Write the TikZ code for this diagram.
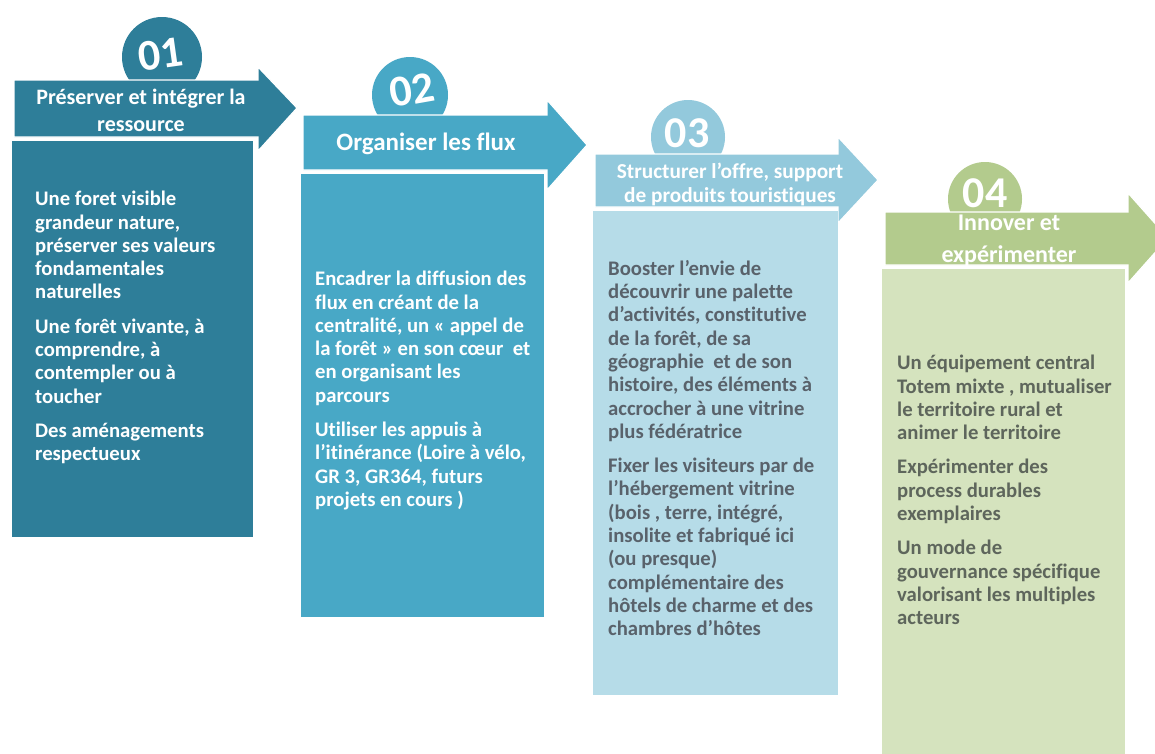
\documentclass[tikz,border=0pt]{standalone}
\usepackage{fontspec}
\setmainfont{Carlito}[Ligatures={NoCommon}]
\definecolor{cA}{HTML}{2E7E99}
\definecolor{cB}{HTML}{48A8C6}
\definecolor{cC}{HTML}{93C9DC}
\definecolor{cCbox}{HTML}{B6DCE8}
\definecolor{cD}{HTML}{B3CB8D}
\definecolor{cDbox}{HTML}{D5E3BE}
\definecolor{tC}{HTML}{59626B}
\definecolor{tD}{HTML}{5E665C}
\tikzset{
  band/.style={draw=white, line width=1.2pt},
  numtext/.style={inner sep=0pt, text=white, font=\fontsize{44}{44}\selectfont\bfseries},
  headtext/.style 2 args={inner sep=0pt, align=center, text=white, font=\fontsize{#1}{#2}\selectfont\bfseries},
  bodytext/.style={anchor=north west, inner sep=0pt, align=left, font=\fontsize{20.7}{23.3}\selectfont\bfseries},
}
\begin{document}
\begin{tikzpicture}[x=1pt,y=-1pt]
\useasboundingbox (0,0) rectangle (1155,753);
\clip (0,0) rectangle (1155,753);
\fill[white] (0,0) rectangle (1155,753);
% ---------- column 1
\fill[cA] (162,57) circle[radius=40];
\node[numtext, rotate=8] (n1) at (161,54) {01};
\path[band, fill=cA] (14,80) -- (258,80) -- (258,67) -- (297,108) -- (258,151) -- (258,137) -- (14,137) -- cycle;
\node[headtext={22}{27}] (h1) at (141,110) {Préserver et intégrer la\\ressource};
\fill[cA] (12,141) rectangle (253,537);
\node[bodytext, text=white] (t1) at (35,191) {Une foret visible\\
grandeur nature,\\
préserver ses valeurs\\
fondamentales\\
naturelles\\[11pt]
Une forêt vivante, à\\
comprendre, à\\
contempler ou à\\
toucher\\[11pt]
Des aménagements\\
respectueux};
% ---------- column 2
\fill[cB] (410,95) circle[radius=38];
\node[numtext, rotate=10] (n2) at (412,90) {02};
\path[band, fill=cB] (303,115) -- (547,115) -- (547,100) -- (587,145) -- (547,190) -- (547,170) -- (303,170) -- cycle;
\node[headtext={25}{30}, anchor=base] (h2) at (426,150) {Organiser les flux};
\fill[cB] (301,174) rectangle (544,617);
\node[bodytext, text=white] (t2) at (315,271) {Encadrer la diffusion des\\
flux en créant de la\\
centralité, un « appel de\\
la forêt » en son cœur ~et\\
en organisant les\\
parcours\\[11pt]
Utiliser les appuis à\\
l’itinérance (Loire à vélo,\\
GR 3, GR364, futurs\\
projets en cours )};
% ---------- column 3
\fill[cC] (688,137) circle[radius=37];
\node[numtext] (n3) at (687,133) {03};
\path[band, fill=cC] (595,154) -- (838,154) -- (838,137) -- (878,180) -- (838,223) -- (838,207) -- (595,207) -- cycle;
\node[headtext={21.3}{24}] (h3) at (730,184) {Structurer l’offre, support\\de produits touristiques};
\fill[cCbox] (593,211) rectangle (838,695);
\node[bodytext, text=tC] (t3) at (608,260) {Booster l’envie de\\
découvrir une palette\\
d’activités, constitutive\\
de la forêt, de sa\\
géographie ~et de son\\
histoire, des éléments à\\
accrocher à une vitrine\\
plus fédératrice\\[11pt]
Fixer les visiteurs par de\\
l’hébergement vitrine\\
(bois , terre, intégré,\\
insolite et fabriqué ici\\
(ou presque)\\
complémentaire des\\
hôtels de charme et des\\
chambres d’hôtes};
% ---------- column 4
\fill[cD] (985,199) circle[radius=37];
\node[numtext] (n4) at (985,193) {04};
\path[band, fill=cD] (885,212) -- (1128,212) -- (1128,193) -- (1168,238) -- (1128,283) -- (1128,265) -- (885,265) -- cycle;
\node[headtext={24}{32}] (h4) at (1009,241) {Innover et\\expérimenter};
\fill[cDbox] (882,269) rectangle (1125,760);
\node[bodytext, text=tD] (t4) at (897,355) {Un équipement central\\
Totem mixte , mutualiser\\
le territoire rural et\\
animer le territoire\\[11pt]
Expérimenter des\\
process durables\\
exemplaires\\[11pt]
Un mode de\\
gouvernance spécifique\\
valorisant les multiples\\
acteurs};
\end{tikzpicture}
\end{document}
